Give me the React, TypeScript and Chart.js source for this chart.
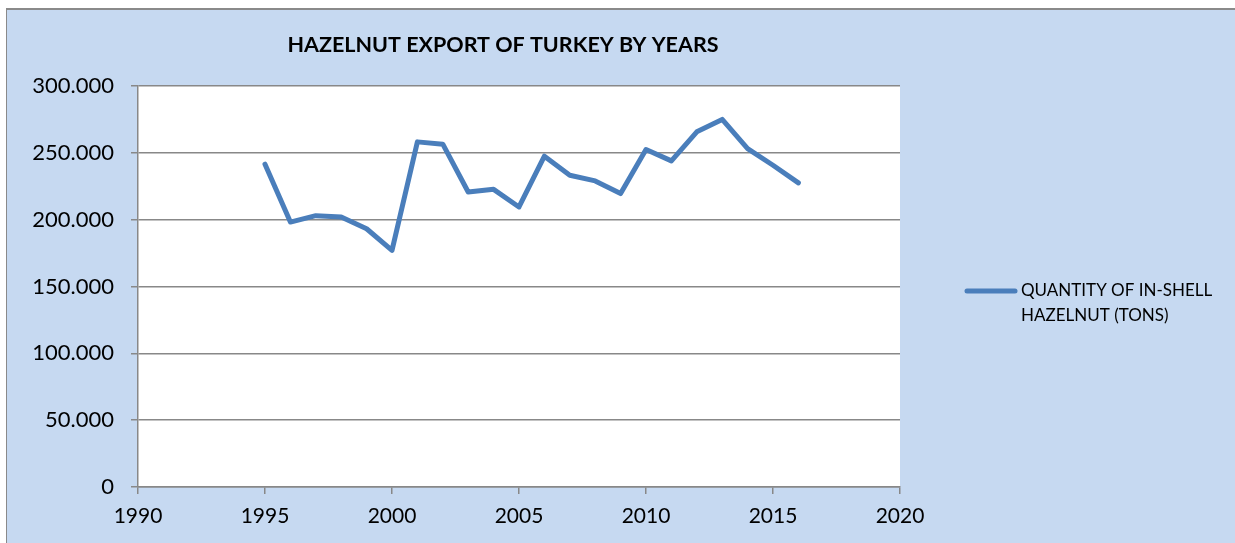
import React, { useEffect, useRef } from "react";
import { Chart, registerables } from "chart.js";

Chart.register(...registerables);

const TITLE = "HAZELNUT EXPORT OF TURKEY BY YEARS";
const SERIES_LABEL = ["QUANTITY OF IN-SHELL", "HAZELNUT (TONS)"];
const years = [1995, 1996, 1997, 1998, 1999, 2000, 2001, 2002, 2003, 2004, 2005, 2006, 2007, 2008, 2009, 2010, 2011, 2012, 2013, 2014, 2015, 2016];
const quantities = [241500, 198200, 203000, 202000, 193200, 177000, 258200, 256500, 220700, 222700, 209500, 247500, 233200, 229000, 219500, 252500, 244000, 265700, 275000, 253200, 240700, 227500];
const xMin = 1990;
const xMax = 2020;
const xStep = 5;
const yMin = 0;
const yMax = 300000;
const yStep = 50000;

const LINE_COLOR = "#4A7EBB";
const GRID_COLOR = "#888888";
const BG_COLOR = "#C6D9F1";
const FONT = "Lato, 'Noto Sans', sans-serif";

function fmt(v: number): string {
  if (v === 0) return "0";
  const s = Math.round(v).toString();
  return s.replace(/\B(?=(\d{3})+(?!\d))/g, ".");
}

const decorPlugin = {
  id: "decor",
  beforeDraw(chart: any) {
    const { ctx, width, height, chartArea } = chart;
    ctx.save();
    ctx.fillStyle = "#ffffff";
    ctx.fillRect(0, 0, width, height);
    ctx.fillStyle = BG_COLOR;
    ctx.fillRect(6, 8, width - 6, height - 8);
    ctx.fillStyle = "#8a8a8a";
    ctx.fillRect(6, 8, width - 6, 2);
    ctx.fillRect(6, 8, 1, height - 8);
    ctx.fillStyle = "#ffffff";
    ctx.fillRect(chartArea.left, chartArea.top, chartArea.right - chartArea.left, chartArea.bottom - chartArea.top);
    ctx.restore();
  },
  afterDraw(chart: any) {
    const { ctx } = chart;
    ctx.save();
    ctx.fillStyle = "#000000";
    ctx.font = "bold 21.5px " + FONT;
    ctx.textAlign = "center";
    ctx.textBaseline = "middle";
    ctx.fillText(TITLE, 503, 45);
    // legend
    ctx.strokeStyle = LINE_COLOR;
    ctx.lineWidth = 5;
    ctx.lineCap = "round";
    ctx.beginPath();
    ctx.moveTo(967, 291);
    ctx.lineTo(1015, 291);
    ctx.stroke();
    ctx.font = "17px " + FONT;
    ctx.textAlign = "left";
    ctx.fillText(SERIES_LABEL[0], 1021, 291);
    ctx.fillText(SERIES_LABEL[1], 1021, 316);
    ctx.restore();
  },
};

export default function App() {
  const ref = useRef<HTMLCanvasElement | null>(null);
  useEffect(() => {
    document.body.style.margin = "0";
    if (!ref.current) return;
    const chart = new Chart(ref.current, {
      type: "line",
      data: {
        datasets: [
          {
            label: SERIES_LABEL.join(" "),
            data: years.map((y, i) => ({ x: y, y: quantities[i] })),
            borderColor: LINE_COLOR,
            backgroundColor: LINE_COLOR,
            borderWidth: 5,
            pointRadius: 0,
            tension: 0,
            borderJoinStyle: "round",
            borderCapStyle: "round",
          },
        ],
      },
      options: {
        responsive: false,
        maintainAspectRatio: false,
        animation: false,
        layout: { padding: { left: 0, right: 335, top: 86, bottom: 0 } },
        plugins: { legend: { display: false }, title: { display: false }, tooltip: { enabled: false } },
        scales: {
          x: {
            type: "linear",
            min: xMin,
            max: xMax,
            afterFit: (s: any) => { s.height = 56; },
            ticks: { stepSize: xStep, color: "#000", font: { family: FONT, size: 21 }, padding: 10, callback: (v: any) => String(v) },
            grid: { drawOnChartArea: false, drawTicks: true, tickLength: 7, color: GRID_COLOR, lineWidth: 1.5 },
            border: { display: true, color: GRID_COLOR, width: 1.5 },
          },
          y: {
            min: yMin,
            max: yMax,
            afterFit: (s: any) => { s.width = 138; },
            ticks: { stepSize: yStep, color: "#000", font: { family: FONT, size: 22 }, padding: 17, callback: (v: any) => fmt(Number(v)) },
            grid: { drawOnChartArea: true, drawTicks: true, tickLength: 7, color: GRID_COLOR, lineWidth: 1.5 },
            border: { display: true, color: GRID_COLOR, width: 1.5 },
          },
        },
      },
      plugins: [decorPlugin],
    });
    return () => chart.destroy();
  }, []);
  return (
    <div style={{ position: "absolute", left: 0, top: 0, width: 1235, height: 543 }}>
      <canvas ref={ref} width={1235} height={543} />
    </div>
  );
}
